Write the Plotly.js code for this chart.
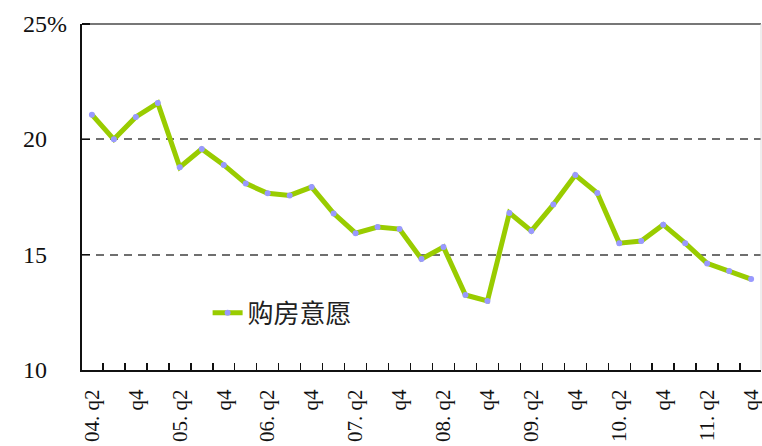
<!DOCTYPE html>
<html>
<head>
<meta charset="utf-8">
<script src="https://cdn.plot.ly/plotly-3.0.1.min.js"></script>
<style>html,body{margin:0;padding:0;background:#fff;}#chart{width:762px;height:446px;}</style>
</head>
<body>
<div id="chart"></div>
<script>
// Quarters 2004 Q2 .. 2011 Q4
const quarters = ['04q2','04q3','04q4','05q1','05q2','05q3','05q4','06q1','06q2','06q3','06q4','07q1','07q2','07q3','07q4','08q1','08q2','08q3','08q4','09q1','09q2','09q3','09q4','10q1','10q2','10q3','10q4','11q1','11q2','11q3','11q4'];
const seriesName = '购房意愿';
const purchaseIntent = [21.07, 20.0, 20.97, 21.57, 18.79, 19.58, 18.89, 18.09, 17.66, 17.57, 17.93, 16.79, 15.93, 16.20, 16.11, 14.81, 15.33, 13.25, 12.99, 16.81, 16.03, 17.17, 18.45, 17.67, 15.50, 15.59, 16.30, 15.50, 14.62, 14.29, 13.94];
const xTickIdx = [0,2,4,6,8,10,12,14,16,18,20,22,24,26,28,30];
const xTickText = ['04. q2','q4','05. q2','q4','06. q2','q4','07. q2','q4','08. q2','q4','09. q2','q4','10. q2','q4','11. q2','q4'];
const yTickVals = [10, 15, 20, 25];
const yTickText = ['10', '15', '20', '25%'];

const xIdx = quarters.map((_, i) => i);
const boundaries = quarters.slice(0, -1).map((_, i) => i + 0.5);

const serif = "'Liberation Serif', 'DejaVu Serif', serif";

const trace = {
  x: xIdx,
  y: purchaseIntent,
  type: 'scatter',
  mode: 'lines+markers',
  name: seriesName,
  line: {color: '#99CC00', width: 5},
  marker: {color: '#9999FF', size: 6},
  hoverinfo: 'none'
};

const annotations = yTickVals.map((v, i) => ({
  xref: 'paper', yref: 'y', x: -61/679, y: v,
  xanchor: 'left', yanchor: 'middle',
  text: yTickText[i], showarrow: false,
  font: {family: serif, size: 24, color: '#111'}
}));

const layout = {
  width: 762, height: 446,
  margin: {l: 82, r: 1, t: 24, b: 76, pad: 0},
  paper_bgcolor: '#fff', plot_bgcolor: '#fff',
  showlegend: true,
  legend: {
    x: 0.185, y: 0.165, xanchor: 'left', yanchor: 'middle',
    bgcolor: 'rgba(0,0,0,0)',
    font: {family: 'Noto Sans CJK SC, sans-serif', size: 26, color: '#222'}
  },
  xaxis: {
    range: [-0.45, 30.45],
    tickmode: 'array', tickvals: xTickIdx, ticktext: xTickText,
    tickangle: -90, ticks: '',
    ticklabelstandoff: 9,
    ticklabeloverflow: 'allow',
    tickfont: {family: serif, size: 21, color: '#111'},
    showgrid: false, zeroline: false,
    showline: true, linecolor: '#111', linewidth: 2,
    minor: {tickmode: 'array', tickvals: boundaries, ticks: 'inside', ticklen: 7, tickcolor: '#111', tickwidth: 1.5, showgrid: false},
    fixedrange: true
  },
  yaxis: {
    range: [10, 25],
    tickmode: 'array', tickvals: yTickVals,
    showticklabels: false,
    ticks: 'inside', ticklen: 8, tickcolor: '#111', tickwidth: 1.5,
    showgrid: true, gridcolor: '#6f6f6f', gridwidth: 2, griddash: '8px,6px',
    zeroline: false,
    showline: true, linecolor: '#111', linewidth: 2,
    fixedrange: true
  },
  shapes: [
    {type: 'line', xref: 'paper', yref: 'paper', x0: 0, x1: 1, y0: 1, y1: 1, line: {color: '#777', width: 2}, layer: 'above'},
    {type: 'line', xref: 'paper', yref: 'paper', x0: 1, x1: 1, y0: 0, y1: 1, line: {color: '#ddd', width: 1}, layer: 'above'},
    {type: 'line', xref: 'paper', yref: 'paper', x0: 0, x1: 8/679, y0: 1, y1: 1, line: {color: '#111', width: 2}, layer: 'above'}
  ],
  annotations: annotations
};

Plotly.newPlot('chart', [trace], layout, {staticPlot: true, displayModeBar: false});
</script>
</body>
</html>
